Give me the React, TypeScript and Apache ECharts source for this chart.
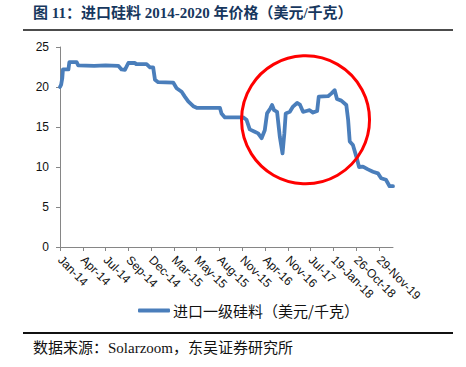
import React, { useEffect, useRef } from "react";
import * as echarts from "echarts";

const titleText = "图 11：进口硅料 2014-2020 年价格（美元/千克）";
const sourceText = "数据来源：Solarzoom，东吴证券研究所";
const seriesName = "进口一级硅料（美元/千克）";

const tickLabels = [
  "Jan-14", "Apr-14", "Jul-14", "Sep-14", "Dec-14", "Mar-15", "May-15", "Aug-15",
  "Nov-15", "Apr-16", "Nov-16", "Jul-17", "19-Jan-18", "26-Oct-18", "29-Nov-19",
];

const yTicks = [0, 5, 10, 15, 20, 25];

// [position along category axis (in label steps), price USD/kg]
const pricePoints: [number, number][] = [
  [0, 20.0], [0.05, 20.3], [0.1, 21.1], [0.13, 22.2], [0.37, 22.2], [0.41, 23.1],
  [0.73, 23.1], [0.8, 22.7], [1.5, 22.65], [2.0, 22.7], [2.56, 22.65], [2.7, 22.2],
  [2.85, 22.15], [3.0, 23.0], [3.29, 23.0], [3.35, 22.85], [3.8, 22.85], [3.95, 22.45],
  [4.09, 22.45], [4.17, 20.9], [4.31, 20.6], [4.97, 20.55], [5.12, 19.85], [5.34, 19.4],
  [5.48, 18.8], [5.63, 18.2], [5.85, 17.6], [6.0, 17.4], [7.02, 17.4], [7.09, 16.7],
  [7.24, 16.2], [8.04, 16.2], [8.19, 15.9], [8.33, 14.7], [8.55, 14.4], [8.7, 14.2],
  [8.85, 13.6], [8.99, 14.6], [9.09, 16.7], [9.24, 17.35], [9.31, 17.75], [9.4, 17.1],
  [9.53, 16.9], [9.65, 13.8], [9.77, 11.7], [9.85, 14.2], [9.91, 16.7], [10.09, 16.9],
  [10.23, 17.55], [10.41, 18.0], [10.53, 17.8], [10.67, 16.9], [10.82, 17.0], [10.96, 17.1],
  [11.11, 16.8], [11.29, 17.0], [11.36, 18.8], [11.77, 18.85], [11.92, 19.2], [12.06, 19.6],
  [12.16, 18.5], [12.35, 18.3], [12.57, 17.75], [12.65, 15.9], [12.72, 13.2], [12.86, 12.75],
  [13.01, 11.3], [13.13, 10.0], [13.3, 10.05], [13.52, 9.7], [13.74, 9.4], [13.96, 9.2],
  [14.1, 8.6], [14.31, 8.4], [14.47, 7.6], [14.62, 7.6],
];

const xMax = 14.62;
const highlightCenter: [number, number] = [10.78, 15.9];

export default function App() {
  const ref = useRef<HTMLDivElement>(null);

  useEffect(() => {
    if (!ref.current) return;
    const chart = echarts.init(ref.current, null, { renderer: "svg" });
    const tickIdx = tickLabels.map((_, i) => i);
    const baseGraphic: any[] = [
      {
        type: "text",
        id: "title",
        left: 33,
        top: 5,
        style: {
          text: titleText,
          fill: "#17375E",
          font: 'bold 15px "Liberation Serif", "Noto Sans CJK SC"',
        },
      },
      {
        type: "line",
        id: "topRule",
        shape: { x1: 23, y1: 30, x2: 453, y2: 30 },
        style: { stroke: "#111", lineWidth: 1.5 },
      },
      {
        type: "line",
        id: "bottomRule",
        shape: { x1: 23, y1: 333, x2: 453, y2: 333 },
        style: { stroke: "#111", lineWidth: 2 },
      },
      {
        type: "text",
        id: "source",
        left: 33,
        top: 340,
        style: {
          text: sourceText,
          fill: "#111",
          font: '15px "Liberation Serif", "Noto Sans CJK SC"',
        },
      },
    ];
    const option: any = {
      animation: false,
      backgroundColor: "#fff",
      grid: { left: 60, top: 47, width: 333, height: 200, containLabel: false },
      legend: {
        left: 133,
        top: 298,
        icon: "roundRect",
        itemWidth: 32,
        itemHeight: 4,
        itemGap: 10,
        textStyle: {
          fontSize: 15,
          color: "#111",
          fontFamily: '"Noto Sans CJK SC"',
          padding: [0, 0, 0, -2],
        },
        data: [seriesName],
      },
      xAxis: {
        type: "value",
        min: 0,
        max: xMax,
        axisLine: { show: true, lineStyle: { color: "#868686", width: 1 } },
        axisTick: {
          show: true,
          length: 4,
          customValues: tickIdx,
          lineStyle: { color: "#868686" },
        },
        axisLabel: {
          customValues: tickIdx,
          rotate: -45,
          margin: 11,
          fontSize: 12,
          color: "#111",
          fontFamily: '"Liberation Sans", Arial',
          formatter: (v: number) => tickLabels[Math.round(v)] ?? "",
        },
        splitLine: { show: false },
      },
      yAxis: {
        type: "value",
        min: 0,
        max: 25,
        interval: 5,
        axisLine: { show: true, lineStyle: { color: "#868686", width: 1 } },
        axisTick: { show: true, length: 4, lineStyle: { color: "#868686" } },
        axisLabel: {
          margin: 11,
          fontSize: 12,
          color: "#111",
          fontFamily: '"Liberation Sans", Arial',
          formatter: (v: number) => (yTicks.includes(v) ? String(v) : ""),
        },
        splitLine: { show: false },
      },
      series: [
        {
          name: seriesName,
          type: "line",
          data: pricePoints,
          showSymbol: false,
          symbol: "none",
          lineStyle: { color: "#4A7EBB", width: 3.8, cap: "round", join: "round" },
          itemStyle: { color: "#4A7EBB" },
        },
      ],
      graphic: baseGraphic,
    };
    chart.setOption(option);
    const c = chart.convertToPixel({ gridIndex: 0 }, highlightCenter) as number[];
    chart.setOption({
      graphic: [
        ...baseGraphic,
        {
          type: "circle",
          id: "highlight",
          shape: { cx: c[0], cy: c[1], r: 64 },
          style: { fill: "none", stroke: "#FF0000", lineWidth: 3 },
          z: 100,
        },
      ],
    });
    return () => chart.dispose();
  }, []);

  return (
    <div
      ref={ref}
      style={{ position: "fixed", left: 0, top: 0, width: 466, height: 367 }}
    />
  );
}
